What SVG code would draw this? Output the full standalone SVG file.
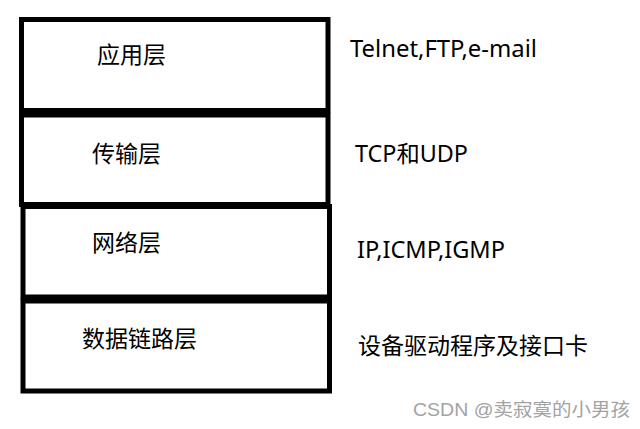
<svg xmlns="http://www.w3.org/2000/svg" width="640" height="429" viewBox="0 0 640 429">
<style>
.box{fill:#fff;stroke:#000;stroke-width:5}
.t{font-family:"Noto Sans","Noto Sans CJK SC",sans-serif;font-size:23px;fill:#000}
.wm{font-family:"Liberation Sans","Noto Sans CJK SC",sans-serif;font-size:18px;fill:#a3a3a3}
</style>
<rect width="640" height="429" fill="#fff"/>
<g id="app">
<rect class="box" x="21.5" y="19.5" width="306.5" height="91"/>
<text class="t" x="97" y="63">应用层</text>
<text class="t" x="350" y="57" textLength="187" lengthAdjust="spacingAndGlyphs">Telnet,FTP,e-mail</text>
</g>
<g id="transport">
<rect class="box" x="21.5" y="115" width="306.5" height="89.5"/>
<text class="t" x="92" y="162">传输层</text>
<text class="t" x="355" y="162" textLength="113" lengthAdjust="spacingAndGlyphs">TCP和UDP</text>
</g>
<g id="network">
<rect class="box" x="23" y="206.5" width="306.5" height="90.5"/>
<text class="t" x="92" y="251">网络层</text>
<text class="t" x="357" y="258" textLength="148" lengthAdjust="spacingAndGlyphs">IP,ICMP,IGMP</text>
</g>
<g id="datalink">
<rect class="box" x="23" y="301" width="306.5" height="90"/>
<text class="t" x="82" y="347">数据链路层</text>
<text class="t" x="358" y="354">设备驱动程序及接口卡</text>
</g>
<g id="connectors"></g>
<text class="wm" x="413" y="416" textLength="217" lengthAdjust="spacingAndGlyphs">CSDN @卖寂寞的小男孩</text>
</svg>
